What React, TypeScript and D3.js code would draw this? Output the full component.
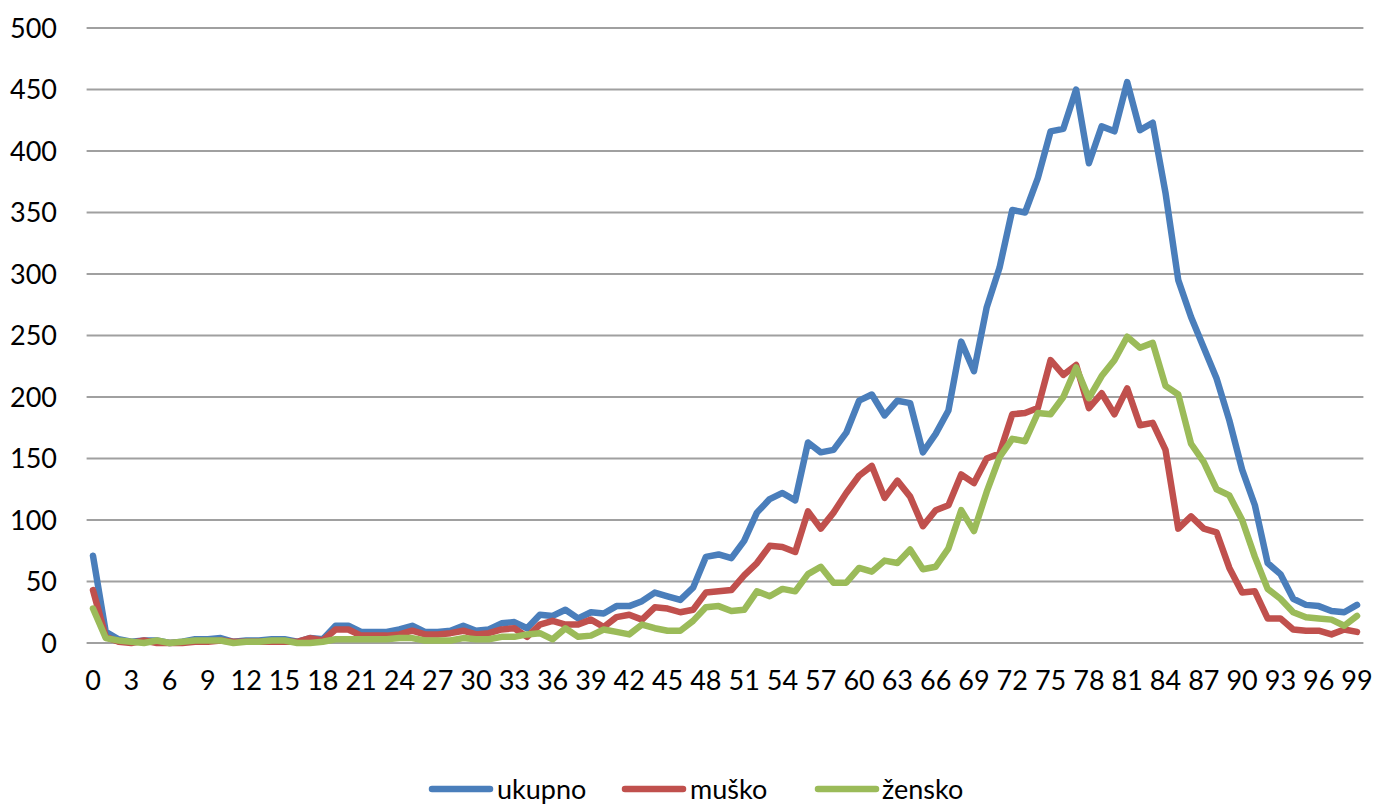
import * as d3 from "d3";

const ages = d3.range(0, 100).map(String);

const ukupno = [
  71, 9, 3, 1, 2, 2, 0, 1, 3, 3, 4, 1, 2, 2, 3, 3, 1, 4, 3, 14,
  14, 9, 9, 9, 11, 14, 9, 9, 10, 14, 10, 11, 16, 17, 12, 23, 22, 27, 20, 25,
  24, 30, 30, 34, 41, 38, 35, 45, 70, 72, 69, 83, 106, 117, 122, 116, 163, 155, 157, 171,
  197, 202, 185, 197, 195, 155, 170, 189, 245, 221, 273, 305, 352, 350, 378, 416, 418, 450, 390, 420,
  416, 456, 417, 423, 366, 295, 265, 240, 215, 181, 141, 112, 65, 56, 36, 31, 30, 26, 25, 31,
];

const musko = [
  43, 5, 1, 0, 2, 0, 0, 0, 1, 1, 2, 1, 1, 1, 1, 1, 1, 4, 2, 11,
  11, 6, 6, 6, 7, 10, 7, 7, 8, 10, 7, 8, 11, 12, 5, 15, 18, 15, 15, 19,
  13, 21, 23, 19, 29, 28, 25, 27, 41, 42, 43, 55, 65, 79, 78, 74, 107, 93, 106, 122,
  136, 144, 118, 132, 119, 95, 108, 112, 137, 130, 150, 154, 186, 187, 191, 230, 218, 226, 191, 203,
  186, 207, 177, 179, 157, 93, 103, 93, 90, 61, 41, 42, 20, 20, 11, 10, 10, 7, 11, 9,
];

const zensko = [
  28, 4, 2, 1, 0, 2, 0, 1, 2, 2, 2, 0, 1, 1, 2, 2, 0, 0, 1, 3,
  3, 3, 3, 3, 4, 4, 2, 2, 2, 4, 3, 3, 5, 5, 7, 8, 3, 12, 5, 6,
  11, 9, 7, 15, 12, 10, 10, 18, 29, 30, 26, 27, 42, 38, 44, 42, 56, 62, 49, 49,
  61, 58, 67, 65, 76, 60, 62, 77, 108, 91, 123, 151, 166, 164, 187, 186, 200, 224, 199, 217,
  230, 249, 240, 244, 209, 202, 162, 147, 125, 120, 100, 70, 44, 36, 25, 21, 20, 19, 14, 22,
];

const yTicks = [0, 50, 100, 150, 200, 250, 300, 350, 400, 450, 500];

const series = [
  { name: "ukupno", values: ukupno, color: "#4A7EBB" },
  { name: "muško", values: musko, color: "#C0504D" },
  { name: "žensko", values: zensko, color: "#9BBB59" },
];

const width = 1376;
const height = 805;
const marginLeft = 86.6;
const marginRight = 12.6;
const marginTop = 28;
const plotBottom = 643;
const font = "Lato, 'Open Sans', sans-serif";
const fontSize = 27;

export default function App() {
  const x = d3
    .scaleBand()
    .domain(ages)
    .range([marginLeft, width - marginRight]);

  const y = d3.scaleLinear().domain([0, 500]).range([plotBottom, marginTop]);

  const cx = (a: string) => (x(a) as number) + x.bandwidth() / 2;

  const line = d3
    .line<number>()
    .x((_, i) => cx(ages[i]))
    .y((d) => y(d));

  const legendItems = [
    { x: 432, tx: 497 },
    { x: 625, tx: 690 },
    { x: 818, tx: 882 },
  ];

  return (
    <>
      <style>{`body{margin:0}`}</style>
      <svg width={width} height={height} style={{ display: "block", background: "#fff" }}>
        {yTicks.map((t) => (
          <g key={t}>
            <line
              x1={marginLeft}
              x2={width - marginRight}
              y1={y(t)}
              y2={y(t)}
              stroke="#A0A0A0"
              strokeWidth={2}
            />
            <text
              x={57}
              y={y(t)}
              dy="0.36em"
              textAnchor="end"
              fontFamily={font}
              fontSize={fontSize}
              fill="#000"
            >
              {t}
            </text>
          </g>
        ))}
        {ages
          .filter((_, i) => i % 3 === 0)
          .map((a) => (
            <text
              key={a}
              x={cx(a)}
              y={690}
              textAnchor="middle"
              fontFamily={font}
              fontSize={fontSize}
              fill="#000"
            >
              {a}
            </text>
          ))}
        {series.map((s) => (
          <path
            key={s.name}
            d={line(s.values) ?? ""}
            fill="none"
            stroke={s.color}
            strokeWidth={6.5}
            strokeLinejoin="round"
            strokeLinecap="round"
          />
        ))}
        {series.map((s, i) => (
          <g key={s.name}>
            <line
              x1={legendItems[i].x}
              x2={legendItems[i].x + 58}
              y1={789}
              y2={789}
              stroke={s.color}
              strokeWidth={6.5}
              strokeLinecap="round"
            />
            <text
              x={legendItems[i].tx}
              y={789}
              dy="0.36em"
              fontFamily={font}
              fontSize={fontSize}
              fill="#000"
            >
              {s.name}
            </text>
          </g>
        ))}
      </svg>
    </>
  );
}
